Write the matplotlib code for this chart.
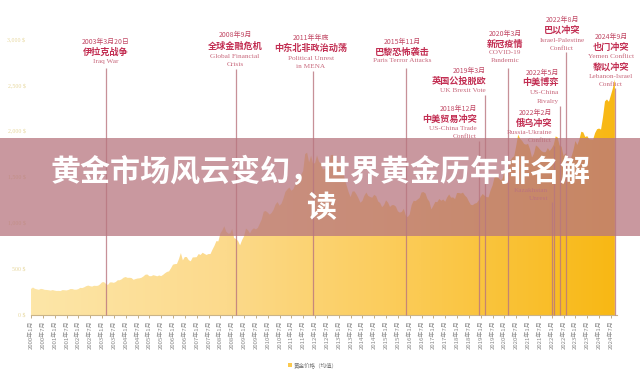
import numpy as np
import matplotlib
matplotlib.use("Agg")
import matplotlib.pyplot as plt
from matplotlib.colors import LinearSegmentedColormap
from matplotlib.patches import Rectangle

# ---------------- data ----------------
start_year = 2000
gold_price = [
    284, 300, 286, 280, 275, 285, 282, 274, 273, 270, 266, 272,
    266, 262, 263, 261, 272, 270, 268, 273, 283, 283, 276, 276,
    282, 296, 294, 302, 314, 321, 314, 310, 319, 317, 319, 333,
    356, 359, 340, 328, 355, 356, 351, 360, 379, 379, 390, 407,
    414, 405, 406, 403, 384, 392, 398, 400, 406, 420, 439, 442,
    424, 423, 434, 429, 422, 431, 424, 438, 456, 470, 476, 510,
    549, 555, 557, 610, 676, 596, 633, 632, 598, 586, 628, 629,
    631, 665, 655, 679, 667, 655, 665, 665, 712, 754, 806, 803,
    889, 922, 968, 909, 888, 889, 939, 839, 829, 806, 760, 816,
    858, 943, 925, 890, 928, 946, 934, 949, 996, 1043, 1127, 1134,
    1118, 1095, 1113, 1148, 1205, 1232, 1193, 1215, 1271, 1343, 1370, 1391,
    1356, 1372, 1424, 1473, 1510, 1529, 1572, 1756, 1771, 1665, 1739, 1652,
    1656, 1742, 1673, 1650, 1585, 1596, 1593, 1626, 1744, 1747, 1722, 1684,
    1671, 1627, 1593, 1487, 1414, 1343, 1286, 1347, 1349, 1316, 1275, 1225,
    1244, 1300, 1336, 1299, 1287, 1279, 1311, 1296, 1239, 1222, 1176, 1200,
    1251, 1227, 1179, 1198, 1199, 1182, 1131, 1117, 1125, 1159, 1086, 1068,
    1097, 1200, 1246, 1242, 1260, 1276, 1337, 1341, 1326, 1266, 1236, 1152,
    1192, 1234, 1231, 1266, 1246, 1260, 1236, 1283, 1315, 1280, 1283, 1265,
    1331, 1331, 1325, 1335, 1303, 1282, 1238, 1202, 1198, 1215, 1221, 1250,
    1291, 1320, 1301, 1286, 1284, 1359, 1413, 1500, 1510, 1495, 1471, 1480,
    1560, 1597, 1592, 1683, 1715, 1732, 1846, 1968, 1922, 1900, 1866, 1858,
    1867, 1808, 1718, 1760, 1850, 1834, 1807, 1785, 1775, 1777, 1821, 1790,
    1817, 1856, 1948, 1937, 1849, 1836, 1733, 1765, 1681, 1665, 1726, 1798,
    1898, 1855, 1912, 1999, 1992, 1942, 1951, 1918, 1916, 1915, 1985, 2026,
    2034, 2023, 2159, 2330, 2351, 2326, 2398, 2472, 2571,
]
y_ticks = [0, 500, 1000, 1500, 2000, 2500, 3000]
y_tick_labels = ["0 $", "500 $", "1,000 $", "1,500 $", "2,000 $", "2,500 $", "3,000 $"]

event_dates = [(2003, 3), (2008, 9), (2011, 12), (2015, 11), (2018, 12), (2019, 3),
               (2020, 3), (2022, 1), (2022, 2), (2022, 5), (2022, 8), (2024, 9)]
event_labels = [
    ["2003年3月20日", "伊拉克战争", "Iraq War"],
    ["2008年9月", "全球金融危机", "Global Financial", "Crisis"],
    ["2011年年底", "中东北非政治动荡", "Political Unrest", "in MENA"],
    ["2015年11月", "巴黎恐怖袭击", "Paris Terror Attacks"],
    ["2018年12月", "中美贸易冲突", "US-China Trade", "Conflict"],
    ["2019年3月", "英国公投脱欧", "UK Brexit Vote"],
    ["2020年3月", "新冠疫情", "COVID-19", "Pandemic"],
    ["Kazakhstan", "Unrest"],
    ["2022年2月", "俄乌冲突", "Russia-Ukraine", "Conflict"],
    ["2022年5月", "中美博弈", "US-China", "Rivalry"],
    ["2022年8月", "巴以冲突", "Israel-Palestine", "Conflict"],
    ["2024年9月", "也门冲突", "Yemen Conflict", "黎以冲突", "Lebanon-Israel", "Conflict"],
]
legend_label = "黄金价格（均值）"
title_lines = ["黄金市场风云变幻，世界黄金历年排名解", "读"]

# ---------------- layout helpers (pixels) ----------------
W, H = 640, 374
X0, Y0 = 31, 315          # pixel of month 0, value 0
PX_PER_MONTH = 23.67 / 12
PX_PER_VAL = 275 / 3000

def py2val(py):
    return (Y0 - py) / PX_PER_VAL

def px2m(px):
    return (px - X0) / PX_PER_MONTH

# label layout: (anchor px, ha, list of line y px, line top px)
label_layout = [
    (106, "center", [42, 52, 61], 68),
    (235, "center", [35, 46, 56, 64], 69),
    (311, "center", [38, 48, 58, 66], 71),
    (402, "center", [42, 52, 61], 68),
    (477, "right", [109, 119, 128, 136], 141),
    (486, "right", [71, 81, 90], 95),
    (505, "center", [34, 44, 53, 61], 68),
    (548, "right", [190, 198], 202),
    (552, "right", [113, 123, 132, 141], 146),
    (559, "right", [73, 82, 92, 101], 106),
    (562, "center", [20, 30, 40, 48], 52),
    (611, "center", [37, 47, 57, 67, 76, 84], 88),
]

CJK = ["Noto Sans CJK SC", "DejaVu Sans"]
SERIF = ["Liberation Serif", "DejaVu Serif"]

fig = plt.figure(figsize=(W / 100, H / 100), dpi=100)
fig.patch.set_facecolor("white")
n = len(gold_price)
xmax = n
ax = fig.add_axes([X0 / W, (H - Y0) / H, xmax * PX_PER_MONTH / W, 3000 * PX_PER_VAL / H])
ax.set_facecolor("none")

months = np.arange(n)
price = np.array(gold_price, dtype=float)

# gradient area
cmap = LinearSegmentedColormap.from_list("gold", ["#fde6a8", "#fcda8c", "#fbca52", "#f8b814"])
grad = np.linspace(0, 1, 512)[None, :]
im = ax.imshow(grad, aspect="auto", cmap=cmap, extent=[0, n - 1, 0, 3000],
               origin="lower", zorder=1, interpolation="bilinear")
poly = ax.fill_between(months, 0, price, facecolor="none", edgecolor="none", zorder=1)
im.set_clip_path(poly.get_paths()[0], transform=ax.transData)

ax.set_xlim(0, xmax)
ax.set_ylim(0, 3000)

# event lines and labels
for (yy, mm), lines, (apx, ha, ys, top) in zip(event_dates, event_labels, label_layout):
    xm = (yy - start_year) * 12 + (mm - 1)
    ax.vlines(xm, 0, py2val(top), color="#b9757f", lw=0.9, alpha=0.8, zorder=3, clip_on=False)
    xa = px2m(apx)
    for i, (txt, ypx) in enumerate(zip(lines, ys)):
        is_cn = any("\u4e00" <= c <= "\u9fff" for c in txt)
        is_date = is_cn and ("年" in txt and any(ch.isdigit() for ch in txt))
        if is_date:
            kw = dict(family=CJK, fontsize=5.0, color="#c24a66")
        elif is_cn:
            kw = dict(family=CJK, fontsize=6.6, color="#c22e52", fontweight="bold")
        else:
            kw = dict(family=SERIF, fontsize=5.2, color="#c8687c")
        ax.text(xa, py2val(ypx), txt, ha=ha, va="center", clip_on=False, zorder=4, **kw)

# axes styling
for s in ["top", "right", "left"]:
    ax.spines[s].set_visible(False)
ax.spines["bottom"].set_color("#c9b48a")
ax.spines["bottom"].set_linewidth(0.8)
ax.set_yticks(y_ticks)
ax.set_yticklabels(y_tick_labels, fontsize=4.2, color="#e6d69a", family=SERIF)
ax.tick_params(axis="y", length=0, pad=4)

xt = np.arange(0, n + 1, 6)
xt_labels = [f"{start_year + t // 12}年{t % 12 + 1}月" for t in xt]
ax.set_xticks(xt)
ax.set_xticklabels(xt_labels, rotation=90, fontsize=4.3, color="#8a8a8a", family=CJK)
ax.tick_params(axis="x", length=2.5, width=0.6, color="#b8a070", pad=1.5)

# legend
fig.patches.append(Rectangle((288 / W, (H - 367) / H), 4 / W, 4 / H,
                             transform=fig.transFigure, facecolor="#fbc94e", edgecolor="none"))
fig.text(294 / W, (H - 365) / H, legend_label, fontsize=4.0, color="#777777",
         family=CJK, va="center", ha="left")

# overlay band with title
fig.patches.append(Rectangle((0, (H - 236) / H), 1, 98 / H, transform=fig.transFigure,
                             facecolor="#b7767f", alpha=0.75, edgecolor="none", zorder=10))
fig.text(321 / W, (H - 172) / H, title_lines[0], fontsize=21.6, color="white",
         fontweight="bold", family=CJK, ha="center", va="center", zorder=11)
fig.text(321 / W, (H - 208) / H, title_lines[1], fontsize=21.6, color="white",
         fontweight="bold", family=CJK, ha="center", va="center", zorder=11)

fig.savefig("out.png", dpi=100, facecolor="white")
